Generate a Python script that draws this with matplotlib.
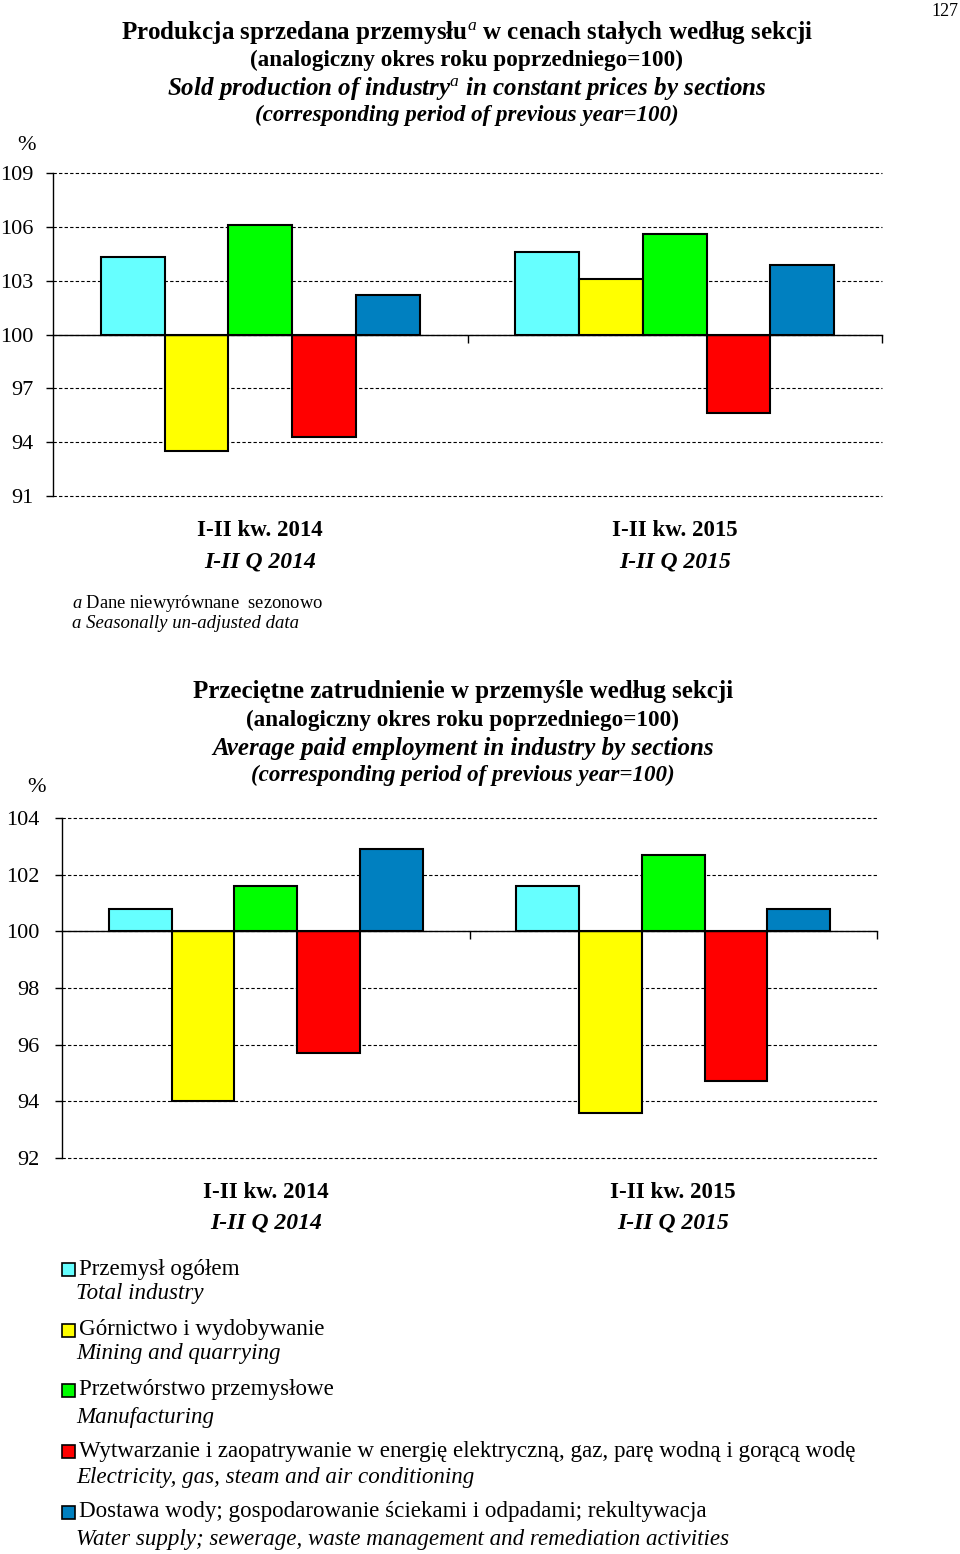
import matplotlib
matplotlib.use("Agg")
import matplotlib.pyplot as plt
import matplotlib.transforms as mtransforms
import numpy as np

plt.rcParams['font.family'] = ['Liberation Serif', 'DejaVu Serif']
plt.rcParams['mathtext.fontset'] = 'custom'
plt.rcParams['mathtext.rm'] = 'Liberation Serif'
plt.rcParams['mathtext.it'] = 'Liberation Serif:italic'
plt.rcParams['mathtext.bf'] = 'Liberation Serif:bold'

# ---------------- data ----------------
periods_pl = ["I-II kw. 2014", "I-II kw. 2015"]
periods_en = ["I-II Q 2014", "I-II Q 2015"]

sections_pl = ["Przemysł ogółem",
               "Górnictwo i wydobywanie",
               "Przetwórstwo przemysłowe",
               "Wytwarzanie i zaopatrywanie w energię elektryczną, gaz, parę wodną i gorącą wodę",
               "Dostawa wody; gospodarowanie ściekami i odpadami; rekultywacja"]
sections_en = ["Total industry",
               "Mining and quarrying",
               "Manufacturing",
               "Electricity, gas, steam and air conditioning",
               "Water supply; sewerage, waste management and remediation activities"]
colors = ["#66FFFF", "#FFFF00", "#00FF00", "#FF0000", "#0080C0"]

# Sold production (sections)
production_2014 = [104.3, 93.5, 106.1, 94.3, 102.2]
production_2015 = [104.6, 103.1, 105.6, 95.6, 103.9]
# Average paid employment
employment_2014 = [100.8, 94.0, 101.6, 95.7, 102.9]
employment_2015 = [101.6, 93.6, 102.7, 94.7, 100.8]

prod_ticks = [91, 94, 97, 100, 103, 106, 109]
empl_ticks = [92, 94, 96, 98, 100, 102, 104]

W, H = 960, 1554
fig = plt.figure(figsize=(W / 100, H / 100), dpi=100)

def fy(px):
    return 1 - px / H

def fx(px):
    return px / W

def draw_panel(rect, v2014, v2015, ticks, lab_y1, lab_y2, pad):
    ax = fig.add_axes(rect)
    base = 100
    vals = np.array([v2014, v2015])  # periods x sections
    n = len(v2014)
    bw = 0.154
    x = np.arange(2)
    for i in range(n):
        offs = (i - (n - 1) / 2) * bw
        h = vals[:, i] - base
        ax.bar(x + offs, h, bw, bottom=base, color=colors[i],
               edgecolor='black', linewidth=1.5, zorder=3)
    ax.set_xlim(-0.5, 1.5)
    ax.set_ylim(ticks[0], ticks[-1])
    ax.set_yticks(ticks)
    ax.set_yticklabels([str(t) for t in ticks], fontsize=16)
    ax.yaxis.grid(True, linestyle=(0, (3, 2)), color='black', linewidth=0.8, zorder=0)
    ax.set_axisbelow(True)
    for line in ax.get_ygridlines():
        line.set_clip_on(False)
    for s in ['top', 'right']:
        ax.spines[s].set_visible(False)
    ax.spines['left'].set_linewidth(1.0)
    ax.spines['bottom'].set_position(('data', base))
    ax.spines['bottom'].set_linewidth(1.0)
    ax.spines['bottom'].set_zorder(4)
    ax.set_xticks([0.5, 1.5])
    ax.set_xticklabels([])
    ax.tick_params(axis='x', direction='out', length=6, width=1)
    ax.tick_params(axis='y', direction='out', length=5, width=1, pad=pad)
    trans = mtransforms.blended_transform_factory(ax.transData, fig.transFigure)
    for k in range(2):
        ax.text(x[k], fy(lab_y1), periods_pl[k], transform=trans, ha='center',
                va='center', fontsize=16.5, fontweight='bold')
        ax.text(x[k], fy(lab_y2), periods_en[k], transform=trans, ha='center',
                va='center', fontsize=17, fontweight='bold', style='italic')
    return ax

# top panel
draw_panel([fx(53), fy(496), fx(882) - fx(53), fy(173) - fy(496)],
           production_2014, production_2015, prod_ticks, 530, 562, 9)
# bottom panel
draw_panel([fx(62), fy(1158), fx(877) - fx(62), fy(818) - fy(1158)],
           employment_2014, employment_2015, empl_ticks, 1192, 1223, 11)

# page number
fig.text(fx(958), fy(12), "127", ha='right', va='center', fontsize=13)

# titles top
fig.text(fx(467), fy(32), "Produkcja sprzedana przemysłu$^{a}$ w cenach stałych według sekcji",
         ha='center', va='center', fontsize=18, fontweight='bold')
fig.text(fx(467), fy(60), "(analogiczny okres roku poprzedniego=100)",
         ha='center', va='center', fontsize=16.7, fontweight='bold')
fig.text(fx(467), fy(88), "Sold production of industry$^{a}$ in constant prices by sections",
         ha='center', va='center', fontsize=18, fontweight='bold', style='italic')
fig.text(fx(467), fy(115), "(corresponding period of previous year=100)",
         ha='center', va='center', fontsize=16.6, fontweight='bold', style='italic')
fig.text(fx(26), fy(145), "%", ha='center', va='center', fontsize=16)

# footnote
fig.text(fx(72), fy(603), "$a$ Dane niewyrównane  sezonowo", ha='left', va='center', fontsize=13.3)
fig.text(fx(72), fy(624), "a Seasonally un-adjusted data", ha='left', va='center',
         fontsize=13.5, style='italic')

# titles bottom
fig.text(fx(463), fy(692), "Przeciętne zatrudnienie w przemyśle według sekcji",
         ha='center', va='center', fontsize=18, fontweight='bold')
fig.text(fx(463), fy(720), "(analogiczny okres roku poprzedniego=100)",
         ha='center', va='center', fontsize=16.7, fontweight='bold')
fig.text(fx(463), fy(748), "Average paid employment in industry by sections",
         ha='center', va='center', fontsize=18, fontweight='bold', style='italic')
fig.text(fx(463), fy(775), "(corresponding period of previous year=100)",
         ha='center', va='center', fontsize=16.6, fontweight='bold', style='italic')
fig.text(fx(36), fy(788), "%", ha='center', va='center', fontsize=16)

# legend
leg_y_pl = [1269, 1330, 1390, 1451, 1512]
leg_y_en = [1293, 1353, 1418, 1477, 1540]
for i in range(len(sections_pl)):
    sq = 13
    fig.patches.append(plt.Rectangle((fx(62), fy(leg_y_pl[i] + sq / 2)), sq / W, sq / H,
                                     transform=fig.transFigure, facecolor=colors[i],
                                     edgecolor='black', linewidth=1.2))
    fig.text(fx(79), fy(leg_y_pl[i]), sections_pl[i], ha='left', va='center', fontsize=16.6)
    fig.text(fx(76), fy(leg_y_en[i]), sections_en[i], ha='left', va='center', fontsize=16.6,
             style='italic')

fig.savefig("out.png", dpi=100)
